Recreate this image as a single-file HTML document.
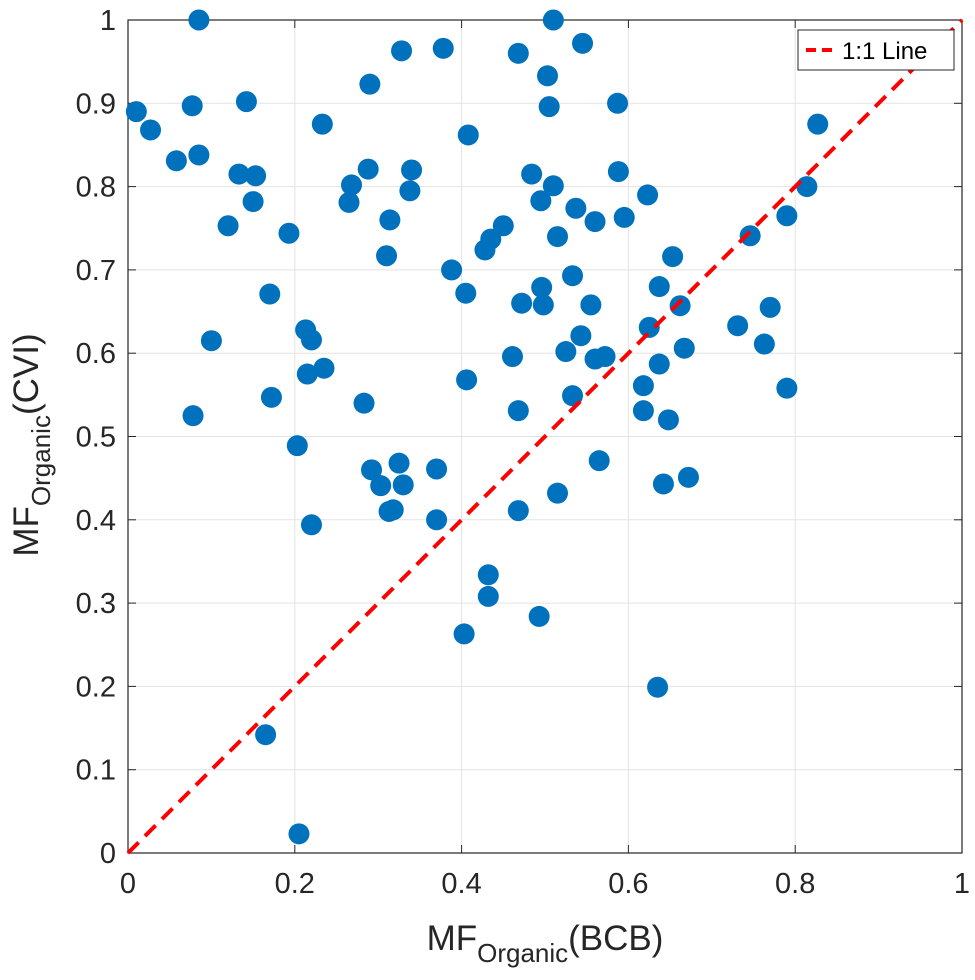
<!DOCTYPE html>
<html><head><meta charset="utf-8"><style>
body{margin:0;background:#fff;}
svg{display:block;font-family:"Liberation Sans",Arial,sans-serif;}
</style></head><body>
<svg id="chart" width="975" height="980" viewBox="0 0 975 980" xmlns="http://www.w3.org/2000/svg"></svg>
<script>
const xTicks=[0,0.2,0.4,0.6,0.8,1];
const xTickLabels=["0","0.2","0.4","0.6","0.8","1"];
const yTicks=[0,0.1,0.2,0.3,0.4,0.5,0.6,0.7,0.8,0.9,1];
const yTickLabels=["0","0.1","0.2","0.3","0.4","0.5","0.6","0.7","0.8","0.9","1"];
const xValues=[0.01,0.027,0.085,0.077,0.085,0.058,0.142,0.133,0.153,0.15,0.12,0.1,0.078,0.17,0.172,0.193,0.213,0.22,0.215,0.235,0.203,0.22,0.165,0.205,0.233,0.268,0.265,0.288,0.29,0.328,0.378,0.314,0.31,0.34,0.338,0.283,0.292,0.303,0.325,0.33,0.313,0.318,0.37,0.37,0.388,0.408,0.405,0.406,0.428,0.435,0.45,0.468,0.503,0.505,0.545,0.51,0.587,0.484,0.495,0.51,0.515,0.537,0.56,0.595,0.588,0.623,0.472,0.496,0.498,0.533,0.555,0.543,0.525,0.56,0.572,0.461,0.468,0.468,0.515,0.533,0.565,0.432,0.432,0.403,0.493,0.653,0.637,0.662,0.625,0.667,0.637,0.618,0.618,0.648,0.642,0.672,0.635,0.731,0.746,0.763,0.77,0.79,0.814,0.827,0.79];
const yValues=[0.89,0.868,1.0,0.897,0.838,0.831,0.902,0.815,0.813,0.782,0.753,0.615,0.525,0.671,0.547,0.744,0.628,0.616,0.575,0.582,0.489,0.394,0.142,0.023,0.875,0.802,0.781,0.821,0.923,0.963,0.966,0.76,0.717,0.82,0.795,0.54,0.46,0.441,0.468,0.442,0.41,0.412,0.461,0.4,0.7,0.862,0.672,0.568,0.724,0.737,0.753,0.96,0.933,0.896,0.972,1.0,0.9,0.815,0.783,0.801,0.74,0.774,0.758,0.763,0.818,0.79,0.66,0.679,0.658,0.693,0.658,0.621,0.602,0.593,0.596,0.596,0.531,0.411,0.432,0.549,0.471,0.334,0.308,0.263,0.284,0.716,0.68,0.657,0.631,0.606,0.587,0.561,0.531,0.52,0.443,0.451,0.199,0.633,0.741,0.611,0.655,0.765,0.8,0.875,0.558];
const X0=128,X1=962,Y0=853,Y1=20;
const sx=v=>X0+(X1-X0)*v, sy=v=>Y0-(Y0-Y1)*v;
const NS="http://www.w3.org/2000/svg", svg=document.getElementById('chart');
function mk(t,a,p){const e=document.createElementNS(NS,t);for(const k in a)e.setAttribute(k,a[k]);(p||svg).appendChild(e);return e;}
const grid=mk('g',{});


xTicks.forEach(v=>mk('line',{x1:sx(v),x2:sx(v),y1:Y1,y2:Y0,stroke:'#e3e3e3','stroke-width':1},grid));
yTicks.forEach(v=>mk('line',{x1:X0,x2:X1,y1:sy(v),y2:sy(v),stroke:'#e3e3e3','stroke-width':1},grid));
const axes=mk('rect',{x:X0,y:Y1,width:X1-X0,height:Y0-Y1,fill:'none',stroke:'#262626','stroke-width':1.2});


xTicks.forEach((v,i)=>{mk('line',{x1:sx(v),x2:sx(v),y1:Y0,y2:Y0-8,stroke:'#262626'});mk('line',{x1:sx(v),x2:sx(v),y1:Y1,y2:Y1+8,stroke:'#262626'});
 const t=mk('text',{x:sx(v),y:Y0+40,'text-anchor':'middle','font-size':29,fill:'#262626'});t.textContent=xTickLabels[i];
 
 });
yTicks.forEach((v,i)=>{mk('line',{x1:X0,x2:X0+8,y1:sy(v),y2:sy(v),stroke:'#262626'});mk('line',{x1:X1,x2:X1-8,y1:sy(v),y2:sy(v),stroke:'#262626'});
 const t=mk('text',{x:X0-12,y:sy(v)+10,'text-anchor':'end','font-size':29,fill:'#262626'});t.textContent=yTickLabels[i];
 
 });
const pts=mk('g',{});


xValues.forEach((x,i)=>{const c=mk('circle',{cx:sx(x),cy:sy(yValues[i]),r:10.5,fill:'#0072BD'},pts);
 
 });
const ln=mk('line',{x1:sx(0),y1:sy(0),x2:sx(1),y2:sy(1),stroke:'#FF0000','stroke-width':4,'stroke-dasharray':'15 9'});


const lg=mk('g',{});


mk('rect',{x:798,y:30,width:156,height:40,fill:'#fff',stroke:'#262626','stroke-width':1},lg);
mk('line',{x1:806,x2:836,y1:50,y2:50,stroke:'#FF0000','stroke-width':4,'stroke-dasharray':'10 6'},lg);
const lt=mk('text',{x:842,y:59,'font-size':24,fill:'#000'},lg);lt.textContent='1:1 Line';


const xl=mk('text',{x:545,y:950,'text-anchor':'middle','font-size':35,fill:'#262626'});
xl.innerHTML='MF<tspan font-size="26" dy="12">Organic</tspan><tspan dy="-12">(BCB)</tspan>';


const yl=mk('text',{x:0,y:0,'text-anchor':'middle','font-size':35,fill:'#262626',transform:'translate(38,445) rotate(-90)'});
yl.innerHTML='MF<tspan font-size="26" dy="12">Organic</tspan><tspan dy="-12">(CVI)</tspan>';


</script>
</body></html>
